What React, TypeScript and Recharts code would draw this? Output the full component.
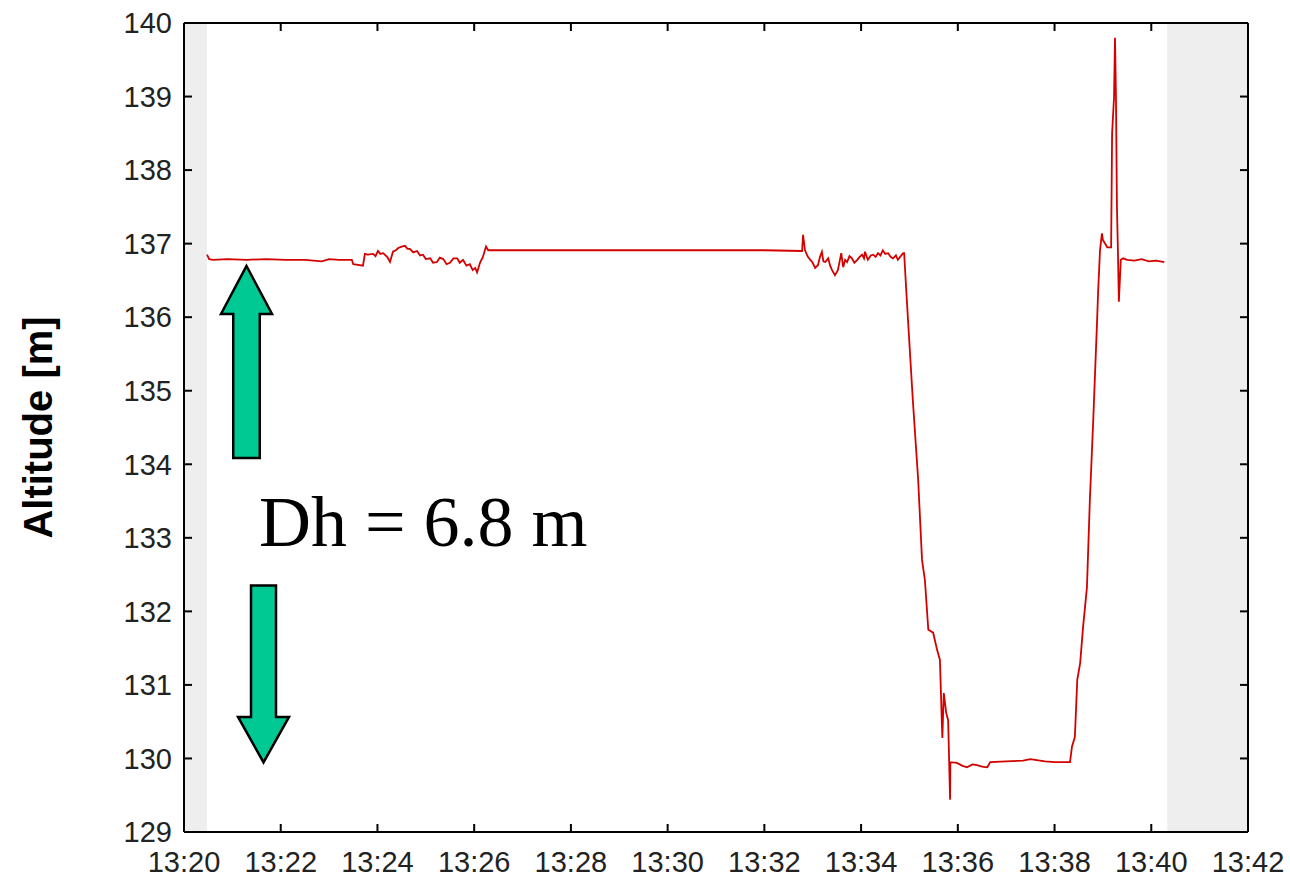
import {
  LineChart,
  Line,
  XAxis,
  YAxis,
  ReferenceArea,
  ReferenceDot,
} from 'recharts'

// minutes after 13:20, altitude in metres
const levelStart: [number, number][] = [
  [0.476, 136.85], [0.52, 136.79], [0.6, 136.78], [0.9, 136.79], [1.3, 136.78],
  [1.7, 136.79], [2.1, 136.78], [2.5, 136.78], [2.85, 136.76], [3.0, 136.79],
  [3.2, 136.78], [3.47, 136.78],
]

const hover1: [number, number][] = [
  [3.5, 136.72], [3.6, 136.71], [3.7, 136.7], [3.74, 136.86], [3.8, 136.85],
  [3.91, 136.86], [3.96, 136.83], [4.01, 136.9], [4.06, 136.86], [4.12, 136.87],
  [4.2, 136.82], [4.26, 136.75], [4.32, 136.89], [4.38, 136.91], [4.43, 136.94],
  [4.5, 136.96], [4.57, 136.97], [4.62, 136.93], [4.67, 136.93], [4.74, 136.88],
  [4.82, 136.9], [4.88, 136.84], [4.94, 136.85], [5.0, 136.79], [5.09, 136.8],
  [5.15, 136.74], [5.23, 136.75], [5.29, 136.81], [5.36, 136.79], [5.43, 136.72],
  [5.5, 136.74], [5.57, 136.8], [5.65, 136.8], [5.7, 136.74], [5.77, 136.78],
  [5.84, 136.7], [5.91, 136.72], [5.97, 136.64], [6.02, 136.67], [6.06, 136.61],
  [6.12, 136.74], [6.18, 136.82], [6.245, 136.96], [6.29, 136.91],
]

const levelMid: [number, number][] = [
  [6.4, 136.91], [8, 136.91], [10, 136.91], [12, 136.91], [12.78, 136.9],
]

const hover2: [number, number][] = [
  [12.8, 137.12], [12.84, 136.91], [12.9, 136.82], [12.95, 136.78], [12.99, 136.75],
  [13.05, 136.67], [13.11, 136.71], [13.15, 136.82], [13.19, 136.89], [13.22, 136.76],
  [13.26, 136.75], [13.32, 136.8], [13.36, 136.7], [13.4, 136.64], [13.46, 136.57],
  [13.52, 136.64], [13.59, 136.87], [13.63, 136.68], [13.67, 136.78], [13.71, 136.75],
  [13.76, 136.83], [13.81, 136.8], [13.86, 136.74], [13.92, 136.78], [13.97, 136.82],
  [14.02, 136.85], [14.06, 136.8], [14.08, 136.89], [14.14, 136.78], [14.2, 136.84],
  [14.25, 136.85], [14.3, 136.82], [14.35, 136.87], [14.4, 136.84], [14.45, 136.91],
  [14.5, 136.86], [14.56, 136.87], [14.61, 136.82], [14.66, 136.8], [14.72, 136.84],
  [14.76, 136.78], [14.82, 136.83], [14.87, 136.87], [14.89, 136.87],
]

const descent: [number, number][] = [
  [14.93, 136.41], [14.97, 135.96], [15.07, 134.87], [15.18, 133.79], [15.26, 132.7],
  [15.32, 132.42], [15.39, 131.75], [15.49, 131.71], [15.57, 131.48], [15.63, 131.34],
  [15.67, 130.48], [15.68, 130.28], [15.71, 130.89], [15.76, 130.62], [15.8, 130.52],
  [15.82, 129.98], [15.84, 129.44], [15.845, 129.95],
]

const levelLow: [number, number][] = [
  [15.98, 129.94], [16.1, 129.9], [16.19, 129.88], [16.3, 129.92], [16.4, 129.91],
  [16.5, 129.89], [16.61, 129.88], [16.67, 129.95], [17.0, 129.96], [17.35, 129.97],
  [17.5, 129.99], [17.8, 129.96], [18.0, 129.95], [18.32, 129.95],
]

const ascent: [number, number][] = [
  [18.36, 130.16], [18.42, 130.29], [18.47, 131.07], [18.53, 131.3], [18.59, 131.79],
  [18.67, 132.33], [18.73, 133.51], [18.8, 134.6], [18.84, 135.28], [18.88, 135.96],
  [18.9, 136.33], [18.94, 136.91], [18.98, 137.14], [19.0, 137.05], [19.09, 136.95],
  [19.17, 136.95], [19.19, 138.5], [19.23, 138.99], [19.25, 139.8], [19.27, 138.99],
  [19.29, 137.5], [19.31, 136.91], [19.33, 136.21],
]

const levelEnd: [number, number][] = [
  [19.37, 136.78], [19.42, 136.8], [19.5, 136.78], [19.65, 136.77], [19.8, 136.79],
  [19.95, 136.76], [20.1, 136.77], [20.27, 136.75],
]

const xTicks = [0, 2, 4, 6, 8, 10, 12, 14, 16, 18, 20, 22]
const xTickLabels = [
  '13:20', '13:22', '13:24', '13:26', '13:28', '13:30',
  '13:32', '13:34', '13:36', '13:38', '13:40', '13:42',
]
const yTicks = [129, 130, 131, 132, 133, 134, 135, 136, 137, 138, 139, 140]

const X_MIN = 0
const X_MAX = 22

// shaded spans outside the record
const grayBands: [number, number][] = [[0, 0.476], [20.33, 22]]

const data = [
  ...levelStart, ...hover1, ...levelMid, ...hover2,
  ...descent, ...levelLow, ...ascent, ...levelEnd,
].map(([t, alt]) => ({ t, alt }))

const fmtTime = (v: number) => xTickLabels[xTicks.indexOf(v)] ?? ''

const tickStyle = { fill: '#222', fontSize: 29, fontFamily: '"Liberation Sans", Arial, sans-serif' }

// top frame with inward ticks, drawn inside the full plot box
function TopFrame(p: any) {
  const { x, y, width: w } = p
  if (typeof x !== 'number' || typeof y !== 'number') return <g />
  return (
    <g>
      <line x1={x} x2={x + w} y1={y} y2={y} stroke="#000" strokeWidth={2} />
      {xTicks.map((v) => {
        const tx = x + (w * (v - X_MIN)) / (X_MAX - X_MIN)
        return <line key={v} x1={tx} x2={tx} y1={y} y2={y + 8} stroke="#000" strokeWidth={2} />
      })}
    </g>
  )
}

function UpArrow(p: any) {
  const { x, y, width: w, height: h } = p
  const cx = x + w / 2
  const hh = h * 0.25
  const sw = w * 0.52
  const pts = [
    [cx, y], [x + w, y + hh], [cx + sw / 2, y + hh], [cx + sw / 2, y + h],
    [cx - sw / 2, y + h], [cx - sw / 2, y + hh], [x, y + hh],
  ].map((q) => q.join(',')).join(' ')
  return <polygon points={pts} fill="#00c994" stroke="#000" strokeWidth={2.5} />
}

function DownArrow(p: any) {
  const { x, y, width: w, height: h } = p
  const cx = x + w / 2
  const hh = h * 0.257
  const sw = w * 0.49
  const pts = [
    [cx - sw / 2, y], [cx + sw / 2, y], [cx + sw / 2, y + h - hh], [x + w, y + h - hh],
    [cx, y + h], [x, y + h - hh], [cx - sw / 2, y + h - hh],
  ].map((q) => q.join(',')).join(' ')
  return <polygon points={pts} fill="#00c994" stroke="#000" strokeWidth={2.5} />
}

function DhText(p: any) {
  return (
    <text
      x={p.cx}
      y={p.cy}
      fill="#000"
      fontSize={72}
      fontFamily='"Liberation Serif", "Times New Roman", serif'
    >
      Dh = 6.8 m
    </text>
  )
}

function YTitle(p: any) {
  const vb = p?.viewBox
  const y = vb && typeof vb.y === 'number' ? vb.y + vb.height / 2 : 414
  return (
    <text
      x={38}
      y={y}
      transform={`rotate(-90 38 ${y})`}
      textAnchor="middle"
      dominantBaseline="central"
      fill="#000"
      fontSize={40}
      fontWeight="bold"
      fontFamily='"Liberation Sans", Arial, sans-serif'
    >
      Altitude [m]
    </text>
  )
}

export default function App() {
  return (
    <div style={{ position: 'absolute', left: 0, top: 0, width: 1290, height: 877, background: '#fff' }}>
      <LineChart
        width={1290}
        height={877}
        data={data}
        margin={{ top: 23, right: 41, bottom: 0, left: 0 }}
      >
        {grayBands.map(([a, b], i) => (
          <ReferenceArea key={i} x1={a} x2={b} y1={129} y2={140} fill="#eeeeee" fillOpacity={1} stroke="none" />
        ))}
        <XAxis
          dataKey="t"
          type="number"
          domain={[X_MIN, X_MAX]}
          allowDataOverflow
          ticks={xTicks}
          interval={0}
          tickFormatter={fmtTime}
          height={45}
          tickSize={-8}
          tickMargin={27}
          axisLine={{ stroke: '#000', strokeWidth: 2 }}
          tickLine={{ stroke: '#000', strokeWidth: 2 }}
          tick={tickStyle}
        />
        <YAxis
          type="number"
          domain={[129, 140]}
          allowDataOverflow
          ticks={yTicks}
          interval={0}
          width={184}
          tickSize={-8}
          tickMargin={20}
          axisLine={{ stroke: '#000', strokeWidth: 2 }}
          tickLine={{ stroke: '#000', strokeWidth: 2 }}
          tick={tickStyle}
          label={(props: any) => <YTitle {...props} />}
        />
        <YAxis
          yAxisId="right"
          orientation="right"
          type="number"
          domain={[129, 140]}
          allowDataOverflow
          ticks={yTicks}
          interval={0}
          width={1}
          tickSize={-8}
          tickFormatter={() => ''}
          axisLine={{ stroke: '#000', strokeWidth: 2 }}
          tickLine={{ stroke: '#000', strokeWidth: 2 }}
        />
        <Line
          type="linear"
          dataKey="alt"
          stroke="#d40000"
          strokeWidth={1.8}
          dot={false}
          isAnimationActive={false}
        />
        <ReferenceArea
          x1={X_MIN}
          x2={X_MAX}
          y1={129}
          y2={140}
          fill="none"
          shape={(p: any) => <TopFrame {...p} />}
        />
        <ReferenceArea x1={0.765} x2={1.82} y1={134.086} y2={136.696} shape={(p: any) => <UpArrow {...p} />} />
        <ReferenceArea x1={1.117} x2={2.171} y1={129.946} y2={132.352} shape={(p: any) => <DownArrow {...p} />} />
        <ReferenceDot x={1.551} y={132.89} r={0} shape={(p: any) => <DhText {...p} />} />
      </LineChart>
    </div>
  )
}
